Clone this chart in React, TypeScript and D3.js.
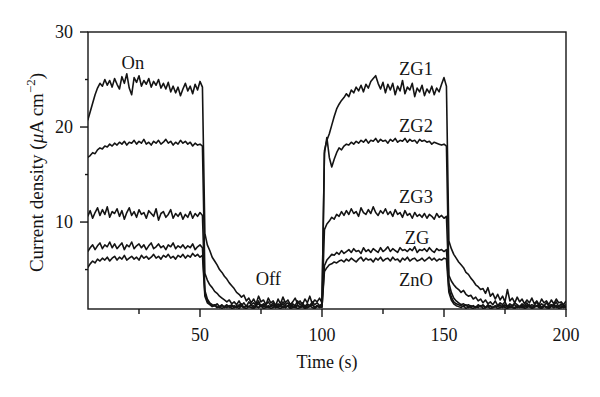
import React from "react";
import * as d3 from "d3";

// sampling grid of the recorded transients (s)
const TIME = d3.range(4, 201, 1);

// current density (uA cm^-2), one reading per second: on 4-51, off 52-100, on 101-151, off 152-200
const ZG1 = [
  20.7, 21.6, 22.5, 23.4, 24.1, 24.6, 24.3, 25.0, 24.4, 24.9, 24.2, 25.1, 24.5, 24.0, 25.3, 24.6, 25.6, 24.1, 23.4, 25.2,
  24.7, 25.4, 24.3, 24.9, 24.5, 25.1, 24.2, 24.8, 24.4, 25.0, 24.1, 24.6, 24.0, 24.7, 23.7, 24.3, 23.6, 24.2, 23.3, 24.0,
  24.6, 23.8, 24.3, 23.5, 24.5, 23.9, 24.8, 24.2,
  8.8, 7.6, 7.0, 6.3, 5.9, 5.5, 5.0, 4.7, 4.3, 4.0, 3.6, 3.3, 3.0, 2.6, 2.4, 2.1, 2.3, 1.7, 2.0, 1.5,
  1.9, 1.4, 2.2, 1.6, 1.8, 1.3, 2.0, 1.5, 1.7, 1.2, 1.9, 1.4, 2.1, 1.5, 1.8, 1.3, 1.6, 2.0, 1.4, 1.7,
  1.3, 1.9, 1.5, 2.2, 1.4, 1.8, 1.6, 2.0, 1.5,
  17.5, 18.6, 19.3, 20.2, 21.1, 21.9, 22.4, 22.8, 23.1, 23.5, 23.2, 23.9, 23.6, 24.2, 23.8, 24.4, 23.7, 24.5, 24.1, 24.8,
  25.1, 25.4, 24.6, 24.0, 24.7, 23.6, 24.5, 23.9, 24.6, 23.4, 24.3, 23.8, 24.9, 23.5, 24.2, 23.9, 24.6, 23.2, 24.1, 23.7,
  24.4, 23.3, 24.0, 23.6, 24.3, 23.4, 24.1, 23.7, 24.5, 25.2, 24.3,
  8.0, 7.2, 6.6, 6.2, 5.8, 5.5, 5.2, 4.7, 4.5, 4.1, 3.8, 3.4, 3.2, 2.9, 3.0, 2.5, 3.1, 2.2, 2.5, 1.9,
  2.4, 1.8, 2.2, 1.6, 2.9, 1.7, 2.0, 1.5, 2.1, 1.6, 1.9, 1.4, 1.8, 1.5, 2.0, 1.4, 1.7, 1.3, 1.9, 1.5,
  1.7, 1.3, 1.8, 1.4, 1.9, 1.5, 1.6, 1.3, 1.7,
];

const ZG2 = [
  16.8, 17.0, 17.3, 17.2, 17.6, 17.8, 17.7, 18.0, 17.9, 18.2, 18.0, 18.3, 18.1, 18.4, 18.2, 18.5, 18.1, 18.4, 18.3, 18.6,
  18.2, 18.5, 18.3, 18.7, 18.2, 18.4, 18.1, 18.5, 18.3, 18.6, 18.2, 18.4, 18.7, 18.3, 18.5, 18.1, 18.4, 18.2, 18.6, 18.3,
  18.5, 18.2, 18.4, 18.0, 18.3, 18.1, 18.2, 18.0,
  4.6, 3.9, 3.4, 3.1, 2.7, 2.5, 2.2, 2.0, 1.8, 1.6, 1.8, 1.4, 1.6, 1.3, 1.7, 1.2, 1.5, 1.1, 1.6, 1.3,
  1.5, 1.2, 1.7, 1.1, 1.4, 1.3, 1.6, 1.2, 1.5, 1.1, 1.4, 1.2, 1.6, 1.3, 1.5, 1.1, 1.4, 1.2, 1.7, 1.3,
  1.5, 1.1, 1.4, 1.2, 1.6, 1.3, 1.5, 1.2, 1.4,
  17.2, 18.9, 16.8, 15.8, 16.6, 17.3, 17.8, 17.6, 18.0, 18.2, 18.1, 18.4, 18.2, 18.5, 18.3, 18.6, 18.4, 18.7, 18.3, 18.6,
  18.5, 18.8, 18.4, 18.7, 18.5, 18.6, 18.3, 18.7, 18.5, 18.8, 18.4, 18.6, 18.5, 18.8, 18.4, 18.7, 18.5, 18.6, 18.3, 18.7,
  18.5, 18.6, 18.4, 18.5, 18.2, 18.4, 18.3, 18.2, 18.1, 18.2, 18.0,
  4.4, 3.8, 3.4, 3.1, 2.9, 2.6, 2.8, 2.4, 2.2, 2.3, 1.9, 2.1, 1.7, 1.9, 1.5, 1.8, 1.4, 1.6, 1.3, 1.7,
  1.2, 1.5, 1.3, 1.6, 1.1, 1.4, 1.2, 1.5, 1.3, 1.1, 1.4, 1.2, 1.5, 1.1, 1.3, 1.2, 1.6, 1.1, 1.4, 1.2,
  1.5, 1.1, 1.3, 1.2, 1.6, 1.1, 1.4, 1.2, 1.3,
];

const ZG3 = [
  10.6, 11.2, 10.4, 11.0, 11.5, 10.7, 11.3, 10.8, 11.6, 10.5, 11.1, 10.9, 11.4, 10.6, 11.2, 10.3, 11.0, 11.5, 10.7, 11.1,
  10.5, 11.3, 10.8, 11.0, 10.4, 11.2, 10.9, 10.6, 11.4, 10.2, 10.9, 11.1, 10.5, 10.8, 11.3, 10.4, 10.9, 10.6, 11.0, 10.3,
  10.8, 10.5, 11.1, 10.4, 10.9, 10.6, 11.0, 10.7,
  2.8, 1.9, 1.5, 1.3, 1.2, 1.4, 1.1, 1.3, 1.0, 1.2, 1.1, 1.3, 1.0, 1.2, 1.1, 1.4, 1.0, 1.2, 1.1, 1.3,
  1.0, 1.2, 1.4, 1.1, 1.3, 1.0, 1.2, 1.1, 1.3, 1.0, 1.2, 1.1, 1.4, 1.0, 1.2, 1.3, 1.1, 1.0, 1.2, 1.1,
  1.3, 1.0, 1.2, 1.1, 1.4, 1.0, 1.2, 1.1, 1.3,
  9.2, 9.8, 10.1, 10.5, 10.3, 10.8, 10.6, 11.1, 10.7, 11.2, 10.8, 11.4, 10.9, 11.1, 10.6, 11.5, 11.0, 10.8, 11.3, 10.9,
  11.6, 11.0, 10.7, 11.2, 10.9, 11.4, 10.8, 11.1, 10.6, 11.3, 10.8, 11.0, 10.5, 11.2, 10.7, 10.9, 10.4, 11.0, 10.6, 10.8,
  10.5, 10.9, 10.4, 10.8, 10.6, 10.3, 10.9, 10.5, 10.7, 10.4, 10.6,
  3.6, 2.6, 2.0, 1.7, 1.5, 1.3, 1.4, 1.2, 1.3, 1.1, 1.2, 1.0, 1.3, 1.1, 1.2, 1.0, 1.3, 1.1, 1.0, 1.2,
  1.1, 1.3, 1.0, 1.2, 1.1, 1.0, 1.2, 1.3, 1.0, 1.1, 1.2, 1.0, 1.3, 1.1, 1.0, 1.2, 1.1, 1.3, 1.0, 1.2,
  1.1, 1.0, 1.2, 1.3, 1.0, 1.1, 1.2, 1.0, 1.1,
];

const ZG = [
  6.9, 7.3, 7.6, 7.1, 7.5, 7.8, 7.2, 7.6, 7.4, 7.9, 7.3, 7.7, 7.2, 7.5, 7.8, 7.1, 7.6, 7.4, 7.9, 7.2,
  7.5, 7.7, 7.3, 7.6, 7.1, 7.5, 7.8, 7.2, 7.4, 7.7, 7.3, 7.5, 7.1, 7.6, 7.4, 7.8, 7.2, 7.5, 7.3, 7.6,
  7.2, 7.5, 7.3, 7.7, 7.1, 7.4, 7.6, 7.3,
  2.5, 1.7, 1.4, 1.2, 1.3, 1.1, 1.0, 1.2, 1.1, 1.3, 1.0, 1.1, 1.2, 1.0, 1.3, 1.1, 1.0, 1.2, 1.1, 1.0,
  1.2, 1.1, 1.0, 1.3, 1.1, 1.2, 1.0, 1.1, 1.2, 1.0, 1.1, 1.3, 1.0, 1.2, 1.1, 1.0, 1.2, 1.1, 1.3, 1.0,
  1.1, 1.2, 1.0, 1.1, 1.3, 1.0, 1.2, 1.1, 1.0,
  5.4, 6.0, 6.3, 6.6, 6.5, 6.8, 6.6, 7.0, 6.7, 6.9, 7.1, 6.8, 7.2, 6.9, 7.0, 6.7, 7.3, 6.9, 7.1, 6.8,
  7.2, 7.0, 6.8, 7.3, 6.9, 7.1, 7.4, 6.9, 7.2, 7.0, 6.8, 7.3, 7.0, 7.1, 6.9, 7.2, 7.0, 7.4, 6.8, 7.1,
  7.0, 7.2, 6.9, 7.3, 7.0, 6.8, 7.2, 7.0, 7.1, 6.9, 7.1,
  3.0, 2.1, 1.6, 1.4, 1.3, 1.2, 1.1, 1.3, 1.0, 1.2, 1.1, 1.0, 1.2, 1.1, 1.3, 1.0, 1.1, 1.2, 1.0, 1.1,
  1.2, 1.0, 1.1, 1.3, 1.0, 1.2, 1.1, 1.0, 1.2, 1.1, 1.0, 1.2, 1.1, 1.3, 1.0, 1.1, 1.2, 1.0, 1.1, 1.2,
  1.0, 1.1, 1.3, 1.0, 1.2, 1.1, 1.0, 1.2, 1.1,
];

const ZNO = [
  5.2, 5.6, 5.9, 5.7, 6.1, 5.9, 6.2, 6.0, 6.3, 5.9, 6.2, 6.4, 6.0, 6.3, 6.1, 6.5, 6.0, 6.2, 6.4, 6.1,
  6.3, 6.0, 6.5, 6.2, 6.4, 6.1, 6.3, 6.6, 6.2, 6.4, 6.1, 6.5, 6.3, 6.6, 6.2, 6.4, 6.1, 6.5, 6.3, 6.6,
  6.2, 6.5, 6.3, 6.7, 6.4, 6.6, 6.3, 6.5,
  2.2, 1.5, 1.3, 1.1, 1.2, 1.0, 1.1, 0.9, 1.1, 1.0, 1.2, 0.9, 1.0, 1.1, 0.9, 1.2, 1.0, 0.9, 1.1, 1.0,
  0.9, 1.1, 1.0, 1.2, 0.9, 1.0, 1.1, 0.9, 1.0, 1.2, 1.0, 0.9, 1.1, 1.0, 1.2, 0.9, 1.0, 1.1, 0.9, 1.0,
  1.1, 0.9, 1.0, 1.2, 1.0, 0.9, 1.1, 1.0, 1.1,
  4.8, 5.2, 5.5, 5.6, 5.8, 5.7, 5.9, 6.0, 5.8, 6.1, 5.9, 6.2, 6.0, 5.8, 6.1, 6.3, 5.9, 6.2, 6.0, 6.1,
  5.8, 6.2, 6.0, 6.3, 5.9, 6.1, 6.2, 5.9, 6.3, 6.0, 6.1, 5.8, 6.2, 6.0, 6.3, 5.9, 6.1, 6.2, 5.9, 6.0,
  6.2, 5.9, 6.1, 6.3, 6.0, 6.2, 5.9, 6.1, 6.0, 6.2, 6.1,
  2.6, 1.8, 1.4, 1.2, 1.1, 1.0, 1.2, 0.9, 1.1, 1.0, 0.9, 1.1, 1.0, 1.2, 0.9, 1.0, 1.1, 0.9, 1.0, 1.1,
  0.9, 1.0, 1.2, 1.0, 0.9, 1.1, 1.0, 0.9, 1.1, 1.0, 1.2, 0.9, 1.0, 1.1, 0.9, 1.0, 1.2, 1.0, 0.9, 1.1,
  1.0, 0.9, 1.1, 1.0, 1.2, 0.9, 1.0, 1.1, 1.0,
];

const SERIES = [ZG1, ZG2, ZG3, ZG, ZNO];

const X_MAJOR = [50, 100, 150, 200];
const X_MINOR = [25, 75, 125, 175];
const Y_MAJOR = [10, 20, 30];
const Y_MINOR = [5, 15, 25];

// text labels placed at (time, current) positions
const NOTES = [
  { text: "On", t: 22.5, v: 26.8 },
  { text: "Off", t: 78, v: 4.1 },
  { text: "ZG1", t: 138.5, v: 26.2 },
  { text: "ZG2", t: 138.5, v: 20.2 },
  { text: "ZG3", t: 138.5, v: 12.7 },
  { text: "ZG", t: 139, v: 8.4 },
  { text: "ZnO", t: 138.5, v: 3.9 },
];

const W = 600;
const H = 397;
const margin = { top: 32, right: 34, bottom: 88, left: 88 };
const FONT = "'Liberation Serif', 'Times New Roman', serif";
const INK = "#141414";

export default function App() {
  const x = d3.scaleLinear().domain([4.1, 200]).range([margin.left, W - margin.right]);
  const y = d3.scaleLinear().domain([0.85, 30]).range([H - margin.bottom, margin.top]);

  const line = d3
    .line<number>()
    .x((_, i) => x(TIME[i]))
    .y((d) => y(d));

  const x0 = margin.left;
  const x1 = W - margin.right;
  const y0 = H - margin.bottom;
  const y1 = margin.top;

  return (
    <svg
      width={W}
      height={H}
      style={{ position: "absolute", left: 0, top: 0, background: "#fff" }}
      fontFamily={FONT}
    >
      <defs>
        <clipPath id="plot">
          <rect x={x0} y={y1} width={x1 - x0} height={y0 - y1} />
        </clipPath>
      </defs>

      <g clipPath="url(#plot)">
        {SERIES.map((s, i) => (
          <path key={i} d={line(s) || ""} fill="none" stroke={INK} strokeWidth={1.6} strokeLinejoin="round" />
        ))}
      </g>

      {/* frame */}
      <rect x={x0} y={y1} width={x1 - x0} height={y0 - y1} fill="none" stroke={INK} strokeWidth={1.4} />

      {/* x axis */}
      {X_MAJOR.map((t) => (
        <g key={"xm" + t}>
          <line x1={x(t)} x2={x(t)} y1={y0} y2={y0 + 8} stroke={INK} strokeWidth={1.4} />
          <text x={x(t)} y={y0 + 32} textAnchor="middle" fontSize={18} fill={INK}>
            {t}
          </text>
        </g>
      ))}
      {X_MINOR.map((t) => (
        <line key={"xn" + t} x1={x(t)} x2={x(t)} y1={y0} y2={y0 + 5} stroke={INK} strokeWidth={1.4} />
      ))}

      {/* y axis */}
      {Y_MAJOR.map((v) => (
        <g key={"ym" + v}>
          <line x1={x0 - 8} x2={x0} y1={y(v)} y2={y(v)} stroke={INK} strokeWidth={1.4} />
          <text x={x0 - 15} y={y(v)} dy="0.35em" textAnchor="end" fontSize={18} fill={INK}>
            {v}
          </text>
        </g>
      ))}
      {Y_MINOR.map((v) => (
        <line key={"yn" + v} x1={x0 - 3} x2={x0} y1={y(v)} y2={y(v)} stroke={INK} strokeWidth={1.4} />
      ))}

      {/* axis titles */}
      <text x={(x0 + x1) / 2} y={368} textAnchor="middle" fontSize={18} fill={INK}>
        Time (s)
      </text>
      <text
        transform={`translate(43, ${(y0 + y1) / 2 + 2}) rotate(-90)`}
        textAnchor="middle"
        fontSize={19}
        fill={INK}
      >
        Current density (<tspan fontStyle="italic">μ</tspan>A cm
        <tspan dy={-8} fontSize={13}>−2</tspan>
        <tspan dy={8}>)</tspan>
      </text>

      {NOTES.map((n) => (
        <text key={n.text} x={x(n.t)} y={y(n.v)} dy="0.35em" textAnchor="middle" fontSize={18.5} fill={INK}>
          {n.text}
        </text>
      ))}
    </svg>
  );
}
